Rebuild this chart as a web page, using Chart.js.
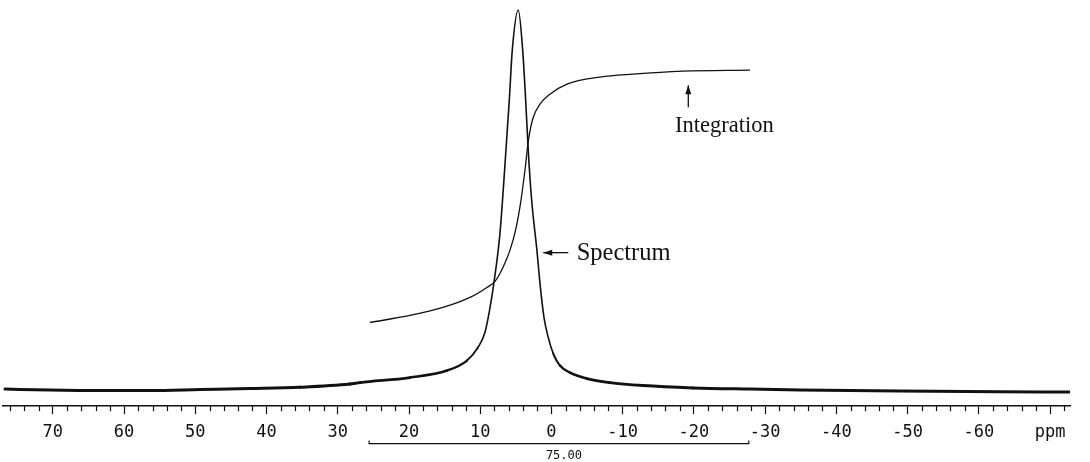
<!DOCTYPE html>
<html>
<head>
<meta charset="utf-8">
<script src="https://cdn.jsdelivr.net/npm/chart.js@4.4.1/dist/chart.umd.min.js"></script>
<style>
  html, body { margin: 0; padding: 0; background: #fff; }
  #nmrChart { display: block; }
</style>
</head>
<body>
<canvas id="nmrChart" width="1090" height="462"></canvas>
<script>
// Chemical shift (ppm) and signal, left to right
const spectrumPpm = [76.72, 70.41, 63.39, 56.37, 49.35, 42.33, 35.31, 28.29, 26.88, 19.87,
  14.67, 11.86, 10.32, 9.34, 8.7, 8.07, 7.23, 6.39, 5.92, 5.5, 4.66, 4.04,
  3.62, 3.26, 2.78, 2.04, 1.61, 1.05, 0.45, -0.25, -1.19, -2.6, -4.98, -8.21, -12.85,
  -19.87, -27.87, -34.89, -48.93, -62.97, -72.93];
const spectrumSignal = [4.4, 4.14, 4.01, 4.01, 4.27, 4.53, 4.87, 5.7, 6.08, 7.38,
  9.19, 11.78, 15.15, 19.03, 24.7, 31.98, 44.67, 66.16, 79.1, 92.05, 102.41, 92.05,
  79.1, 66.16, 53.21, 40.26, 31.72, 22.92, 17.74, 13.59, 10.49, 8.65, 7.12, 6.08, 5.31,
  4.71, 4.4, 4.19, 3.88, 3.7, 3.63];

const integralPpm = [25.48, 19.87, 15.23, 11.44, 9.06, 7.93, 6.81, 5.83, 4.98, 4.28,
  3.72, 3.23, 2.6, 1.61, 0.21, -2.18, -6.81, -11.44, -18.46, -27.87];
const integralSignal = [21.62, 23.43, 25.5, 28.09, 30.68, 32.24, 35.86, 40.26, 45.96, 53.21,
  60.98, 68.75, 74.44, 78.07, 80.66, 83.25, 85.06, 85.84, 86.61, 86.87];

// Integration region and its value
const integralRange = [25.6, -27.7];
const integralValue = "75.00";

// Axis range and unit
const axisRange = [77, -72.8];
const axisUnit = "ppm";
const unitTick = -70;

// Text notes with arrows (ppm / signal units)
const notes = [
  { text: "Spectrum", size: 24.5, textAt: [-3.54, 37.68], arrowFrom: [-2.36, 39.67], arrowTo: [1.15, 39.67] },
  { text: "Integration", size: 22.5, textAt: [-17.34, 70.9], arrowFrom: [-19.21, 77.29], arrowTo: [-19.21, 82.99] },
];

const ink = "#111";

function toPoints(xs, ys) {
  return xs.map((x, i) => ({ x: x, y: ys[i] }));
}

function isMajor(v) {
  return Math.abs(v % 10) < 1e-6;
}

function drawArrow(ctx, x1, y1, x2, y2) {
  let ang = Math.atan2(y2 - y1, x2 - x1);
  ctx.beginPath();
  ctx.moveTo(x1, y1);
  ctx.lineTo(x2, y2);
  ctx.stroke();
  ctx.beginPath();
  ctx.moveTo(x2, y2);
  ctx.lineTo(x2 - 9 * Math.cos(ang) + 3 * Math.sin(ang), y2 - 9 * Math.sin(ang) - 3 * Math.cos(ang));
  ctx.lineTo(x2 - 9 * Math.cos(ang) - 3 * Math.sin(ang), y2 - 9 * Math.sin(ang) + 3 * Math.cos(ang));
  ctx.closePath();
  ctx.fill();
}

// Minor ticks, integral bar and the arrow notes
const extrasPlugin = {
  id: "extras",
  afterDraw(chart) {
    const ctx = chart.ctx;
    const xs = chart.scales.x;
    const ys = chart.scales.y;
    ctx.save();
    ctx.strokeStyle = ink;
    ctx.fillStyle = ink;

    // short ticks every 2 ppm
    ctx.lineWidth = 1.2;
    for (let t of xs.ticks) {
      if (isMajor(t.value)) continue;
      let px = Math.round(xs.getPixelForValue(t.value)) + 0.5;
      ctx.beginPath();
      ctx.moveTo(px, xs.top);
      ctx.lineTo(px, xs.top + 5);
      ctx.stroke();
    }

    // integral bar under the axis
    let bx1 = xs.getPixelForValue(integralRange[0]);
    let bx2 = xs.getPixelForValue(integralRange[1]);
    let by = xs.top + 37.5;
    ctx.lineWidth = 1.2;
    ctx.beginPath();
    ctx.moveTo(bx1, by - 3);
    ctx.lineTo(bx1, by);
    ctx.lineTo(bx2, by);
    ctx.lineTo(bx2, by - 3);
    ctx.stroke();
    ctx.font = '12px "DejaVu Sans Mono"';
    ctx.textAlign = "center";
    ctx.textBaseline = "middle";
    ctx.fillText(integralValue, (bx1 + bx2) / 2 + 5, by + 12);

    // notes
    ctx.lineWidth = 1.3;
    ctx.textAlign = "left";
    ctx.textBaseline = "alphabetic";
    for (let n of notes) {
      drawArrow(ctx,
        xs.getPixelForValue(n.arrowFrom[0]), ys.getPixelForValue(n.arrowFrom[1]),
        xs.getPixelForValue(n.arrowTo[0]), ys.getPixelForValue(n.arrowTo[1]));
      ctx.font = n.size + 'px "Liberation Serif"';
      ctx.fillText(n.text, xs.getPixelForValue(n.textAt[0]), ys.getPixelForValue(n.textAt[1]));
    }
    ctx.restore();
  },
};

let ctx = document.getElementById("nmrChart").getContext("2d");

let data = {
  datasets: [
    {
      label: "Spectrum",
      data: toPoints(spectrumPpm, spectrumSignal),
      borderColor: ink,
      borderWidth: 1.6,
      borderCapStyle: "round",
      borderJoinStyle: "round",
      pointRadius: 0,
      cubicInterpolationMode: "monotone",
      segment: {
        // baseline is drawn heavier than the peak flanks
        borderWidth: (c) => {
          let v = (c.p0.parsed.y + c.p1.parsed.y) / 2;
          let k = Math.min(Math.max((v - 5) / 10, 0), 1);
          return 3 - 1.4 * k;
        },
      },
    },
    {
      label: "Integration",
      data: toPoints(integralPpm, integralSignal),
      borderColor: ink,
      borderWidth: 1.3,
      pointRadius: 0,
      cubicInterpolationMode: "monotone",
    },
  ],
};

let options = {
  responsive: false,
  animation: false,
  devicePixelRatio: 1,
  layout: { padding: { left: 3, right: 20, top: 0, bottom: 11.5 } },
  plugins: {
    legend: { display: false },
    tooltip: { enabled: false },
  },
  scales: {
    x: {
      type: "linear",
      reverse: true,
      min: axisRange[1],
      max: axisRange[0],
      border: { display: true, color: ink, width: 1.5 },
      grid: {
        drawOnChartArea: false,
        drawTicks: true,
        tickLength: 8,
        tickWidth: 1.2,
        tickColor: (c) => (isMajor(c.tick.value) ? ink : "rgba(0,0,0,0)"),
      },
      ticks: {
        stepSize: 2,
        includeBounds: false,
        autoSkip: false,
        maxRotation: 0,
        padding: 8,
        color: ink,
        font: { family: "DejaVu Sans Mono", size: 17 },
        callback: function (v) {
          if (!isMajor(v)) return "";
          if (v === unitTick) return axisUnit;
          return String(Math.round(v));
        },
      },
    },
    y: {
      display: false,
      min: 0,
      max: 105,
    },
  },
};

let chart = new Chart(ctx, {
  type: "line",
  data: data,
  options: options,
  plugins: [extrasPlugin],
});
</script>
</body>
</html>
